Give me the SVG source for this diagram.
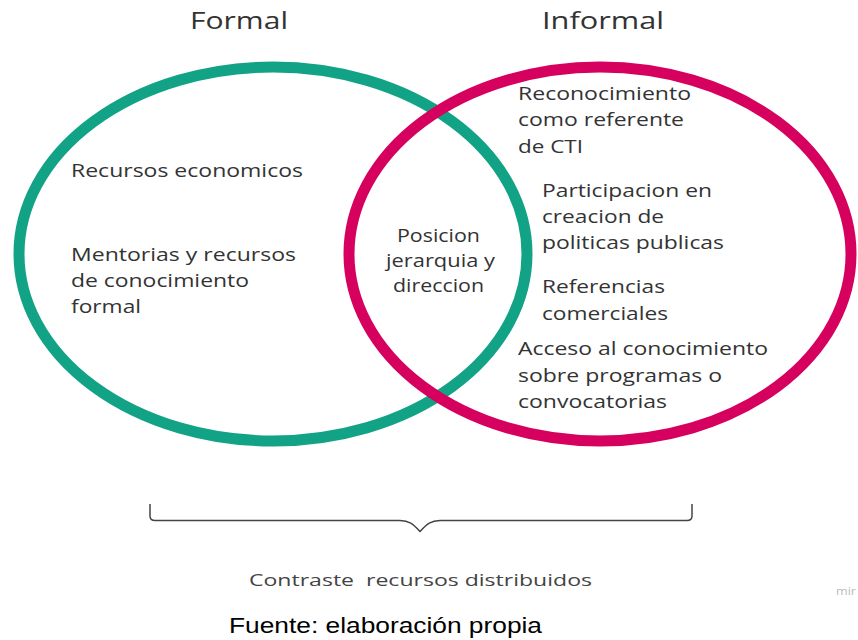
<svg xmlns="http://www.w3.org/2000/svg" width="858" height="640" viewBox="0 0 858 640">
<style>
.ring{fill:none;stroke-width:11}
.green{stroke:#12a386}
.pink{stroke:#d6005f}
.t{font-family:"Open Sans","DejaVu Sans",sans-serif;font-size:18.5px;fill:#333333}
.title{font-family:"Open Sans","DejaVu Sans",sans-serif;font-size:24.5px;fill:#333333}
.cap{font-family:"Open Sans","DejaVu Sans",sans-serif;font-size:17px;fill:#444444;white-space:pre}
.src{font-family:"Liberation Sans",Arial,sans-serif;font-size:22px;fill:#000000}
.wm{font-family:"Open Sans","DejaVu Sans",sans-serif;font-size:10px;fill:#bbbbbb}
.brace{fill:none;stroke:#444444;stroke-width:1.5}
</style>
<rect x="0" y="0" width="858" height="640" fill="#ffffff"/>
<g id="title-formal"><text class="title" x="190" y="29" textLength="98" lengthAdjust="spacingAndGlyphs">Formal</text></g>
<g id="title-informal"><text class="title" x="542" y="29" textLength="122" lengthAdjust="spacingAndGlyphs">Informal</text></g>
<g id="node-formal">
<ellipse class="ring green" cx="273" cy="254" rx="254" ry="187"/>
<text class="t" x="71" y="177" textLength="232" lengthAdjust="spacingAndGlyphs">Recursos economicos</text>
<text class="t" x="71" y="261" textLength="225" lengthAdjust="spacingAndGlyphs">Mentorias y recursos</text>
<text class="t" x="71" y="287" textLength="178" lengthAdjust="spacingAndGlyphs">de conocimiento</text>
<text class="t" x="71" y="313" textLength="70" lengthAdjust="spacingAndGlyphs">formal</text>
</g>
<g id="node-informal">
<ellipse class="ring pink" cx="600" cy="254" rx="251" ry="187"/>
<text class="t" x="518" y="100" textLength="173" lengthAdjust="spacingAndGlyphs">Reconocimiento</text>
<text class="t" x="518" y="126" textLength="166" lengthAdjust="spacingAndGlyphs">como referente</text>
<text class="t" x="518" y="153" textLength="65" lengthAdjust="spacingAndGlyphs">de CTI</text>
<text class="t" x="542" y="197" textLength="170" lengthAdjust="spacingAndGlyphs">Participacion en</text>
<text class="t" x="542" y="223" textLength="122" lengthAdjust="spacingAndGlyphs">creacion de</text>
<text class="t" x="542" y="249" textLength="182" lengthAdjust="spacingAndGlyphs">politicas publicas</text>
<text class="t" x="542" y="293" textLength="123" lengthAdjust="spacingAndGlyphs">Referencias</text>
<text class="t" x="542" y="320" textLength="126" lengthAdjust="spacingAndGlyphs">comerciales</text>
<text class="t" x="518" y="355" textLength="250" lengthAdjust="spacingAndGlyphs">Acceso al conocimiento</text>
<text class="t" x="518" y="382" textLength="204" lengthAdjust="spacingAndGlyphs">sobre programas o</text>
<text class="t" x="518" y="408" textLength="149" lengthAdjust="spacingAndGlyphs">convocatorias</text>
</g>
<g id="node-intersection">
<text class="t" x="397" y="242" textLength="83" lengthAdjust="spacingAndGlyphs">Posicion</text>
<text class="t" x="386" y="267" textLength="109" lengthAdjust="spacingAndGlyphs">jerarquia y</text>
<text class="t" x="393" y="292" textLength="91" lengthAdjust="spacingAndGlyphs">direccion</text>
</g>
<g id="connectors">
<path class="brace" d="M150,504 L150,516 Q150,520.5 155,520.5 L400,520.5 C409,520.5 413,524 420,531.5 C427,524 431,520.5 440,520.5 L687,520.5 Q692,520.5 692,516 L692,504"/>
</g>
<g id="caption">
<text class="cap" x="249" y="586" textLength="343" lengthAdjust="spacingAndGlyphs">Contraste  recursos distribuidos</text>
</g>
<g id="source">
<text class="src" x="229" y="633" textLength="313" lengthAdjust="spacingAndGlyphs">Fuente: elaboración propia</text>
</g>
<g id="watermark">
<text class="wm" x="836" y="595" textLength="20" lengthAdjust="spacingAndGlyphs">mir</text>
</g>
</svg>
